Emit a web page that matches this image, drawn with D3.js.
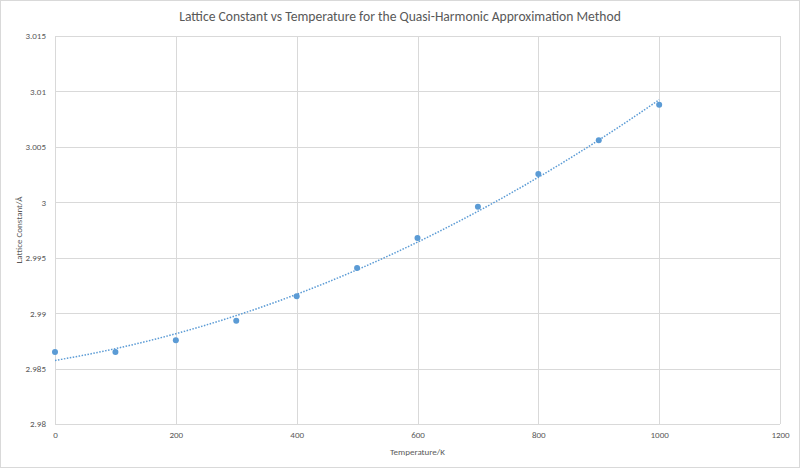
<!DOCTYPE html>
<html>
<head>
<meta charset="utf-8">
<script src="https://cdn.jsdelivr.net/npm/d3@7"></script>
<style>
  body { margin: 0; background: #fff; }
  text { font-family: Carlito, Calibri, "Open Sans", sans-serif; fill: #595959; }
</style>
</head>
<body>
<script>
// temperature (K) and lattice constant (Å)
var temperatura = [0, 100, 200, 300, 400, 500, 600, 700, 800, 900, 1000];
var konstanta = [2.9865, 2.9865, 2.98755, 2.98932, 2.99152, 2.99407, 2.99678, 2.9996, 3.00255, 3.00559, 3.0088];
var xTicks = [0, 200, 400, 600, 800, 1000, 1200];
var yTicks = [2.98, 2.985, 2.99, 2.995, 3, 3.005, 3.01, 3.015];

var width = 800, height = 468;
var margin = {left: 55, right: 20, top: 36, bottom: 44};

var svg = d3.select("body").append("svg")
  .attr("width", width)
  .attr("height", height);

svg.append("rect")
  .attr("x", 0.5).attr("y", 0.5)
  .attr("width", width - 1).attr("height", height - 1)
  .attr("fill", "#fff").attr("stroke", "#d9d9d9");

var xScale = d3.scaleLinear().domain([0, 1200]).range([margin.left, width - margin.right]);
var yScale = d3.scaleLinear().domain([2.98, 3.015]).range([height - margin.bottom, margin.top]);

// mreza
svg.append("g").selectAll("line").data(yTicks).enter().append("line")
  .attr("x1", margin.left).attr("x2", width - margin.right)
  .attr("y1", function(d) { return Math.round(yScale(d)) + 0.5; })
  .attr("y2", function(d) { return Math.round(yScale(d)) + 0.5; })
  .attr("stroke", "#d9d9d9");
svg.append("g").selectAll("line").data(xTicks).enter().append("line")
  .attr("y1", margin.top).attr("y2", height - margin.bottom)
  .attr("x1", function(d) { return Math.round(xScale(d)) + 0.5; })
  .attr("x2", function(d) { return Math.round(xScale(d)) + 0.5; })
  .attr("stroke", "#d9d9d9");

// osi
var xAxis = d3.axisBottom(xScale).tickValues(xTicks).tickSize(0).tickPadding(8).tickFormat(d3.format("d"));
var yAxis = d3.axisLeft(yScale).tickValues(yTicks).tickSize(0).tickPadding(9).tickFormat(function(d) { return String(+d.toFixed(3)); });
var gx = svg.append("g").attr("transform", "translate(0," + (height - margin.bottom) + ")").call(xAxis);
var gy = svg.append("g").attr("transform", "translate(" + margin.left + ",0)").call(yAxis);
[gx, gy].forEach(function(g) {
  g.select(".domain").remove();
  g.selectAll("text").style("font-size", "9px").attr("fill", "#595959");
});

// kvadratni fit (trendna crta)
function fitKvadrat(xs, ys) {
  var n = xs.length, s = [0, 0, 0, 0, 0], t = [0, 0, 0];
  for (var i = 0; i < n; i++) {
    var p = 1;
    for (var k = 0; k < 5; k++) { s[k] += p; if (k < 3) t[k] += p * ys[i]; p *= xs[i]; }
  }
  var A = [[s[0], s[1], s[2], t[0]], [s[1], s[2], s[3], t[1]], [s[2], s[3], s[4], t[2]]];
  for (var c = 0; c < 3; c++) {
    for (var r = c + 1; r < 3; r++) {
      var f = A[r][c] / A[c][c];
      for (var j = c; j < 4; j++) A[r][j] -= f * A[c][j];
    }
  }
  var b = [0, 0, 0];
  for (var r2 = 2; r2 >= 0; r2--) {
    var v = A[r2][3];
    for (var j2 = r2 + 1; j2 < 3; j2++) v -= A[r2][j2] * b[j2];
    b[r2] = v / A[r2][r2];
  }
  return b;
}
var koef = fitKvadrat(temperatura, konstanta);
var trend = d3.range(0, 1001, 10).map(function(x) {
  return {leto: x, vrednost: koef[0] + koef[1] * x + koef[2] * x * x};
});
var line = d3.line()
  .x(function(d) { return xScale(d.leto); })
  .y(function(d) { return yScale(d.vrednost); });
svg.append("path")
  .attr("d", line(trend))
  .attr("fill", "none")
  .attr("stroke", "#5b9bd5")
  .attr("stroke-width", 1.5)
  .attr("stroke-dasharray", "1.5 1.5");

// tocke
svg.append("g").selectAll("circle").data(temperatura).enter().append("circle")
  .attr("cx", function(d) { return xScale(d); })
  .attr("cy", function(d, i) { return yScale(konstanta[i]); })
  .attr("r", 3)
  .attr("fill", "#5b9bd5");

// naslovi
svg.append("text")
  .attr("x", width / 2).attr("y", 21)
  .attr("text-anchor", "middle")
  .style("font-size", "13.6px")
  .text("Lattice Constant vs Temperature for the Quasi-Harmonic Approximation Method");
svg.append("text")
  .attr("x", (margin.left + width - margin.right) / 2).attr("y", 455)
  .attr("text-anchor", "middle")
  .style("font-size", "9px")
  .text("Temperature/K");
svg.append("text")
  .attr("transform", "translate(22," + ((margin.top + height - margin.bottom) / 2) + ") rotate(-90)")
  .attr("text-anchor", "middle")
  .style("font-size", "9px")
  .text("Lattice Constant/Å");
</script>
</body>
</html>
